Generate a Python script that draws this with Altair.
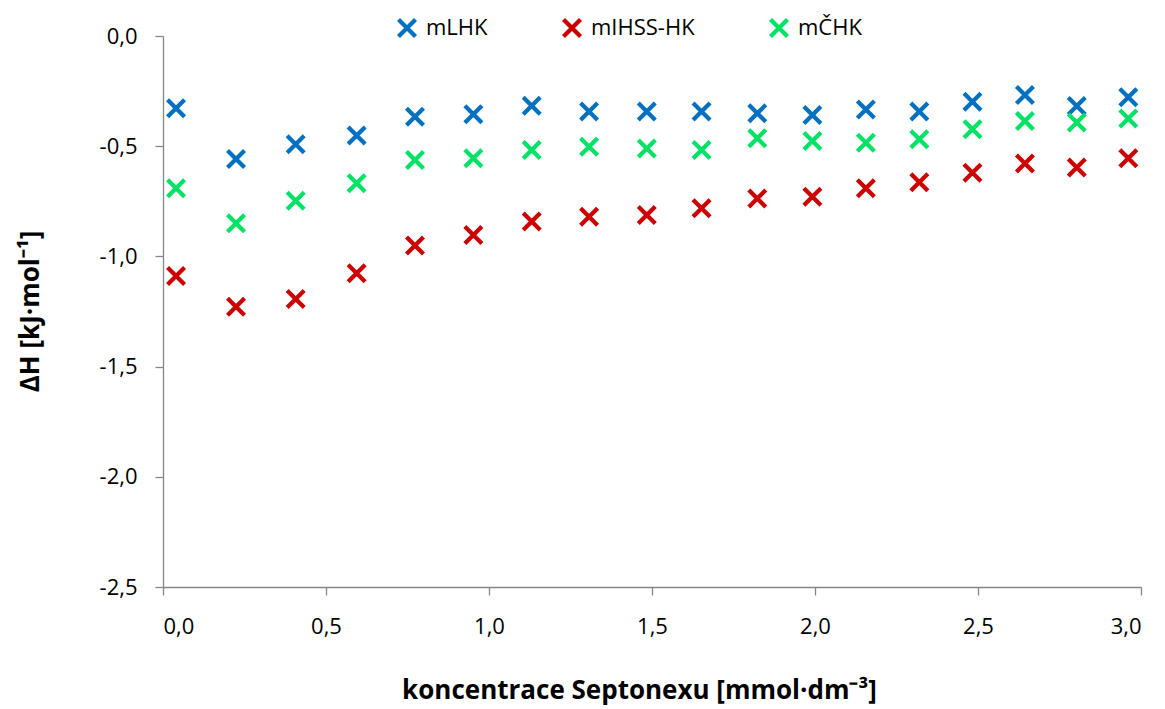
import altair as alt
import pandas as pd

x_vals = [0.04, 0.224, 0.407, 0.594, 0.773, 0.952, 1.131, 1.307, 1.484, 1.652,
          1.823, 1.992, 2.156, 2.320, 2.483, 2.644, 2.803, 2.961]
mLHK = [-0.328, -0.558, -0.491, -0.452, -0.366, -0.355, -0.316, -0.343, -0.343, -0.343,
        -0.351, -0.358, -0.333, -0.343, -0.298, -0.268, -0.318, -0.278]
mIHSS = [-1.089, -1.228, -1.193, -1.077, -0.951, -0.903, -0.842, -0.820, -0.812, -0.782,
         -0.737, -0.729, -0.691, -0.664, -0.620, -0.578, -0.597, -0.555]
mCHK = [-0.691, -0.850, -0.747, -0.668, -0.563, -0.555, -0.517, -0.502, -0.510, -0.517,
        -0.464, -0.476, -0.484, -0.469, -0.423, -0.386, -0.393, -0.374]
series_names = ["mLHK", "mIHSS-HK", "mČHK"]
series_colors = ["#0070C0", "#CC0000", "#00E266"]

rows = []
for name, vals in zip(series_names, [mLHK, mIHSS, mCHK]):
    for xv, yv in zip(x_vals, vals):
        rows.append({"x": xv, "y": yv, "series": name})
df = pd.DataFrame(rows)

XPATH = ("M -1 -0.70 L -0.70 -1 L 1 0.70 L 0.70 1 Z "
         "M 0.70 -1 L 1 -0.70 L -0.70 1 L -1 0.70 Z")

FONT = "Open Sans"
label_expr = "replace(replace(format(datum.value, '.1f'), '.', ','), '\u2212', '-')"

chart = alt.Chart(df).mark_point(shape=XPATH, filled=True, size=400, opacity=1).encode(
    x=alt.X("x:Q", scale=alt.Scale(domain=[0, 3], nice=False, zero=False),
            axis=alt.Axis(values=[0, 0.5, 1.0, 1.5, 2.0, 2.5, 3.0], labelExpr=label_expr,
                          title="koncentrace Septonexu [mmol·dm⁻³]",
                          titleX=476, titleY=103, titleBaseline="middle",
                          labelPadding=21, grid=False)),
    y=alt.Y("y:Q", scale=alt.Scale(domain=[-2.5, 0], nice=False, zero=False),
            axis=alt.Axis(values=[-2.5, -2.0, -1.5, -1.0, -0.5, 0.0], labelExpr=label_expr,
                          title="ΔH [kJ·mol⁻¹]", titleX=-133, titleY=275,
                          titleAlign="center", titleBaseline="middle", titleAngle=270,
                          labelPadding=18, grid=False)),
    color=alt.Color("series:N", scale=alt.Scale(domain=series_names, range=series_colors),
                    legend=alt.Legend(title=None, orient="none", direction="horizontal",
                                      legendX=233, legendY=-19, symbolType=XPATH,
                                      symbolSize=400, symbolStrokeWidth=0,
                                      symbolOpacity=1, columnPadding=73, labelOffset=8,
                                      labelFontSize=22, labelFont=FONT, labelColor="#000")),
).properties(
    width=978, height=551,
    autosize=alt.AutoSizeParams(type="none"),
    padding={"left": 155, "top": 28, "right": 16, "bottom": 119},
).configure_view(stroke=None).configure_axis(
    domainColor="#868686", tickColor="#868686", tickSize=8, domainWidth=1.3, tickWidth=1.3,
    labelFont=FONT, labelFontSize=22, labelColor="#000",
    titleFont=FONT, titleFontSize=26, titleFontWeight="bold", titleColor="#000",
)

chart.save("out.html", embed_options={"renderer": "svg", "actions": False})
